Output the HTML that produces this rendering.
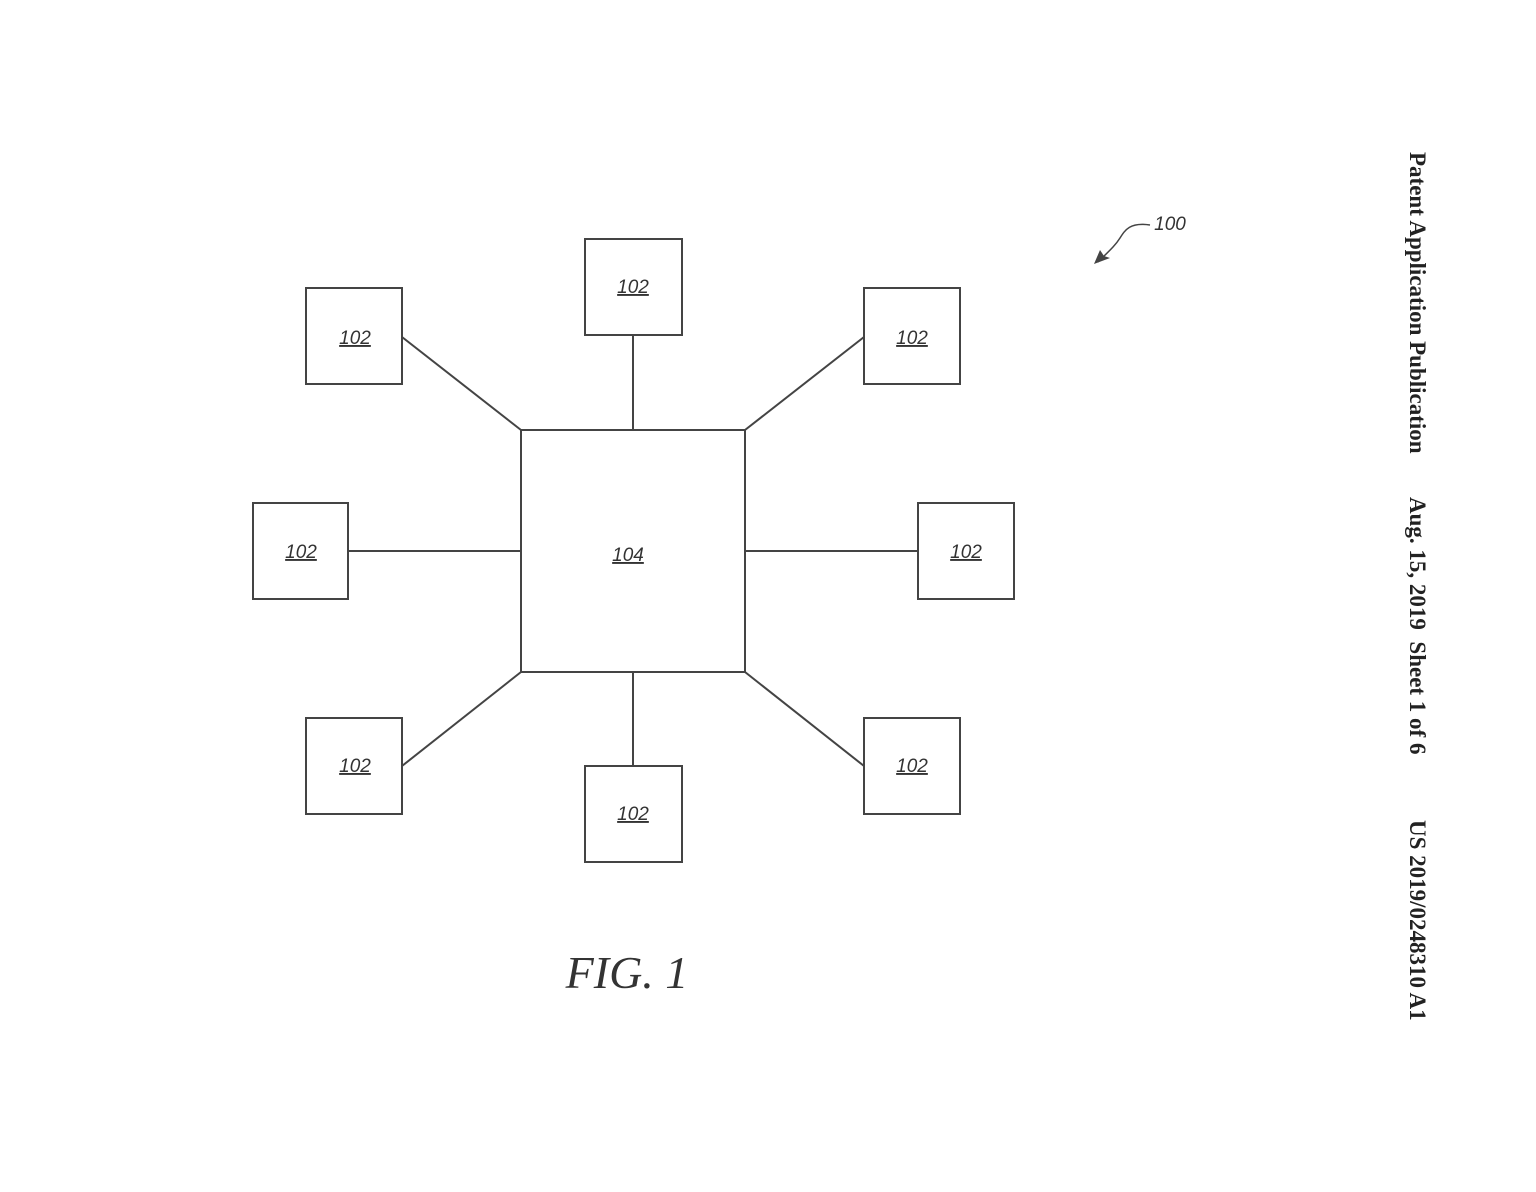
<!DOCTYPE html>
<html><head><meta charset="utf-8"><style>
html,body{margin:0;padding:0;background:#fff;}
body{width:1536px;height:1192px;position:relative;overflow:hidden;}
svg{position:absolute;left:0;top:0;}
.lbl{font-family:"Liberation Sans",sans-serif;font-style:italic;font-size:19px;text-decoration:underline;fill:#333;}
.side{position:absolute;font-family:"Liberation Serif",serif;font-weight:bold;font-size:23px;color:#222;transform-origin:0 0;transform:rotate(90deg);white-space:nowrap;}
</style></head><body>
<svg width="1536" height="1192" viewBox="0 0 1536 1192">
<g fill="none" stroke="#444" stroke-width="2">
<rect x="585" y="239" width="97" height="96"/>
<rect x="306" y="288" width="96" height="96"/>
<rect x="864" y="288" width="96" height="96"/>
<rect x="253" y="503" width="95" height="96"/>
<rect x="918" y="503" width="96" height="96"/>
<rect x="306" y="718" width="96" height="96"/>
<rect x="585" y="766" width="97" height="96"/>
<rect x="864" y="718" width="96" height="96"/>
<rect x="521" y="430" width="224" height="242"/>
<line x1="402" y1="337" x2="521" y2="430"/>
<line x1="633" y1="335" x2="633" y2="430"/>
<line x1="864" y1="337" x2="745" y2="430"/>
<line x1="348" y1="551" x2="521" y2="551"/>
<line x1="745" y1="551" x2="918" y2="551"/>
<line x1="402" y1="766" x2="521" y2="672"/>
<line x1="633" y1="672" x2="633" y2="766"/>
<line x1="745" y1="672" x2="864" y2="766"/>
<path d="M1150 225 C1130 222 1125 230 1120 238 C1115 246 1108 252 1098 262" stroke-width="1.5"/>
</g>
<path d="M1094 264 L1100 250 L1104 256 L1110 258 Z" fill="#444"/>
<g class="lbl" text-anchor="middle">
<text x="633" y="293">102</text>
<text x="355" y="344">102</text>
<text x="912" y="344">102</text>
<text x="301" y="558">102</text>
<text x="966" y="558">102</text>
<text x="355" y="772">102</text>
<text x="633" y="820">102</text>
<text x="912" y="772">102</text>
<text x="628" y="561">104</text>
</g>
<text x="1170" y="230" text-anchor="middle" font-family="Liberation Sans,sans-serif" font-style="italic" font-size="19" fill="#333">100</text>
<text x="627" y="988" text-anchor="middle" font-family="Liberation Serif,serif" font-style="italic" font-size="46" fill="#333">FIG. 1</text>
</svg>
<div class="side" style="left:1430px;top:152px;">Patent Application Publication</div>
<div class="side" style="left:1430px;top:497px;">Aug. 15, 2019&nbsp; Sheet 1 of 6</div>
<div class="side" style="left:1430px;top:820px;">US 2019/0248310 A1</div>
</body></html>
